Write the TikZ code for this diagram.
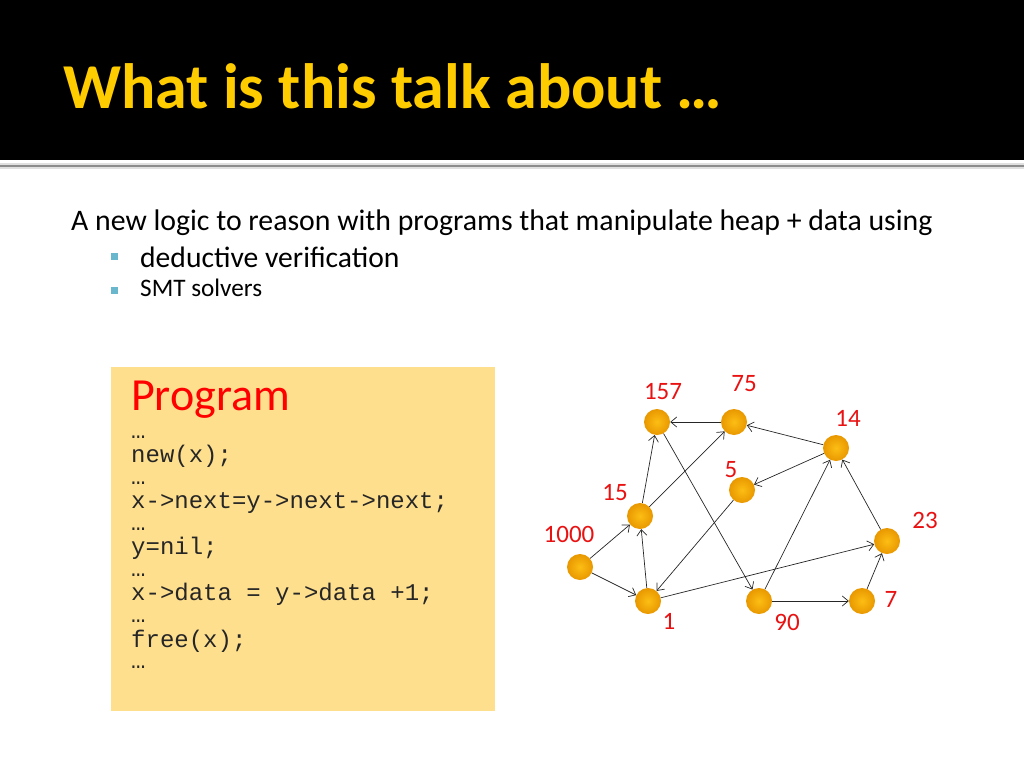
\documentclass[tikz,border=0pt]{standalone}
\usepackage{fontspec}
\setmainfont{Carlito}
\setmonofont{Liberation Mono}
\usetikzlibrary{arrows.meta}

\definecolor{titlegold}{RGB}{255,204,0}
\definecolor{progfill}{RGB}{254,223,142}
\definecolor{bulletblue}{RGB}{104,183,205}
\definecolor{heaptop}{RGB}{253,190,20}
\definecolor{heapedge}{RGB}{232,152,0}
\definecolor{lblred}{RGB}{232,18,18}

\begin{document}
\begin{tikzpicture}[
    x=1pt, y=-1pt,
    >={Straight Barb[length=6pt,width=10pt]},
    heap/.style={circle, minimum size=26pt, inner sep=0pt,
        inner color=heaptop, outer color=heapedge},
    ptr/.style={->, draw=black!85, line width=0.7pt},
    lbl/.style={text=lblred, font=\fontsize{25}{28}\selectfont},
    code/.style={anchor=base west, inner sep=0pt, text=black!85,
        font=\ttfamily\fontsize{24}{28}\selectfont},
    dots/.style={code, text height=4pt, text depth=0pt},
]
\useasboundingbox (0,0) rectangle (1024,768);
% title bar
\fill[black] (0,0) rectangle (1024,160);
\node[anchor=base west, inner sep=0pt, text=titlegold, font=\bfseries\fontsize{64}{70}\selectfont]
    (title) at (63,108) {What is this talk about …};
\draw[black!12, line width=6pt] (0,166) -- (1024,166);
\draw[black!45, line width=2.5pt] (0,166) -- (1024,166);
% intro text and its two items
\node[anchor=base west, inner sep=0pt, font=\fontsize{29.8}{32}\selectfont]
    (intro) at (71,230) {A new logic to reason with programs that manipulate heap + data using};
\fill[bulletblue] (111,253) rectangle +(7,7);
\fill[bulletblue] (111,287) rectangle +(7,7);
\node[anchor=base west, inner sep=0pt, font=\fontsize{29.6}{32}\selectfont]
    (item1) at (140,267) {deductive verification};
\node[anchor=base west, inner sep=0pt, font=\fontsize{25.2}{28}\selectfont]
    (item2) at (140,296) {SMT solvers};
% the program box
\fill[progfill] (111,367) rectangle (495,711);
\node[anchor=base west, inner sep=0pt, text=red, font=\fontsize{46}{50}\selectfont]
    (prog) at (131,410) {Program};
\foreach \y in {438,484,530,576,622,668}
    \node[dots] at (131,\y) {…};
\foreach \y/\txt in {462/{new(x);}, 508/{x->next=y->next->next;}, 554/{y=nil;},
                     600/{x->data = y->data +1;}, 647/{free(x);}}
    \node[code] at (131,\y) {\txt};
% heap cells with their data values
\foreach \n/\x/\y/\lx/\ly in {157/657/422/663/392, 75/734/422/744/384, 14/836/448/848/418,
                              5/742/490/731/470, 15/640/516/615/493, 1000/580/567/569/534,
                              1/648/601/669/621, 90/759/601/787/622, 7/862/601/891/599,
                              23/887/541/925/520}{
    \node[heap] (c\n) at (\x,\y) {};
    \node[lbl] (l\n) at (\lx,\ly) {\n};
}
% pointers
\foreach \a/\b in {75/157, 15/157, 15/75, 157/90, 14/75, 14/5, 90/14, 23/14,
                   1/23, 5/1, 1/15, 1000/15, 1000/1, 90/7, 7/23}
    \draw[ptr] (c\a) -- (c\b);
\end{tikzpicture}
\end{document}
